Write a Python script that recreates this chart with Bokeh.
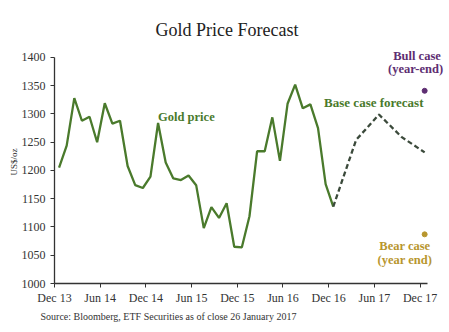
import numpy as np
from bokeh.plotting import figure
from bokeh.models import Label, FixedTicker, Range1d, Title
from bokeh.embed import file_html
from bokeh.resources import INLINE

# ---- data (monthly gold price, Dec 2013 .. Dec 2016) ----
gold_price = [1205, 1244, 1328, 1288, 1295, 1250, 1319, 1283, 1288, 1208, 1174, 1169,
              1189, 1284, 1214, 1186, 1183, 1191, 1174, 1098, 1135, 1116, 1142, 1065,
              1064, 1119, 1234, 1234, 1294, 1217, 1318, 1352, 1310, 1317, 1275, 1176,
              1136]
# quarterly base-case forecast Dec 16 .. Dec 17 (months since Dec 13)
forecast_month = [36, 39, 42, 45, 48]
forecast_price = [1136, 1254, 1299, 1259, 1232]
bull_case = 1341
bear_case = 1087
tick_months = [0, 6, 12, 18, 24, 30, 36, 42, 48]
tick_labels = ["Dec 13", "Jun 14", "Dec 14", "Jun 15", "Dec 15",
               "Jun 16", "Dec 16", "Jun 17", "Dec 17"]

OFF = 0.6  # intra-month position of each observation
FONT = "Liberation Serif"
GREEN = "#4a7a2c"
DASH = "#3b4a3b"
PURPLE = "#5e2e72"
GOLD = "#b8962e"

p = figure(width=449, height=332, output_backend="svg", toolbar_location=None,
           x_range=Range1d(0, 51.6), y_range=Range1d(1000, 1430),
           min_border_left=54, min_border_right=2, min_border_top=40,
           min_border_bottom=49)
p.outline_line_color = None
p.xgrid.grid_line_color = None
p.ygrid.grid_line_color = None
p.background_fill_color = "white"
p.border_fill_color = "white"

p.title = Title(text="Gold Price Forecast", text_font=FONT, text_font_size="18px",
                text_font_style="normal", text_color="#222222", align="left",
                offset=101, standoff=2)
p.add_layout(Title(text="Source: Bloomberg, ETF Securities as of close 26 January 2017",
                   text_font=FONT, text_font_size="10px", text_font_style="normal",
                   text_color="#333333", align="left", offset=-14, standoff=3),
             "below")

x_hist = np.arange(len(gold_price)) + OFF
p.line(x_hist, gold_price, line_color=GREEN, line_width=2.3)
p.line(np.array(forecast_month) + OFF, forecast_price, line_color=DASH,
       line_width=2.3, line_dash="5 3")
p.scatter([48 + OFF], [bull_case], size=5, color=PURPLE)
p.scatter([48 + OFF], [bear_case], size=5, color=GOLD)

for ax in (p.xaxis[0], p.yaxis[0]):
    ax.axis_line_color = "#333333"
    ax.axis_line_width = 1.3
    ax.major_tick_line_color = "#333333"
    ax.major_tick_in = 0
    ax.major_tick_out = 4
    ax.minor_tick_line_color = None
    ax.major_label_text_font = FONT
    ax.major_label_text_color = "#333333"

p.xaxis.bounds = (0, 49)
p.yaxis.bounds = (1000, 1400)
p.xaxis.major_label_text_font_size = "12px"
p.yaxis.major_label_text_font_size = "12px"
p.xaxis.ticker = FixedTicker(ticks=tick_months)
p.xaxis.major_label_overrides = {m: l for m, l in zip(tick_months, tick_labels)}
p.xaxis.major_label_standoff = 3
p.yaxis.ticker = FixedTicker(ticks=list(range(1000, 1401, 50)))
p.yaxis.major_label_standoff = 5
p.yaxis.axis_label = "US$/oz"
p.yaxis.axis_label_text_font = FONT
p.yaxis.axis_label_text_font_size = "9px"
p.yaxis.axis_label_text_font_style = "normal"
p.yaxis.axis_label_text_color = "#333333"
p.yaxis.axis_label_standoff = 0


def lab(x, y, text, size, color, bold=True, align="left"):
    p.add_layout(Label(x=x, y=y, text=text, text_font=FONT,
                       text_font_size=size, text_color=color,
                       text_font_style="bold" if bold else "normal",
                       text_align=align, text_baseline="middle"))


lab(13.6, 1294, "Gold price", "12.5px", GREEN)
lab(35.4, 1321, "Base case forecast", "13px", GREEN)
lab(47.6, 1403, "Bull case", "12.5px", PURPLE, align="center")
lab(47.4, 1380, "(year-end)", "12.5px", PURPLE, align="center")
lab(46.0, 1067, "Bear case", "12.5px", GOLD, align="center")
lab(46.0, 1042, "(year end)", "12.5px", GOLD, align="center")

open("out.html", "w").write(file_html(p, INLINE))
